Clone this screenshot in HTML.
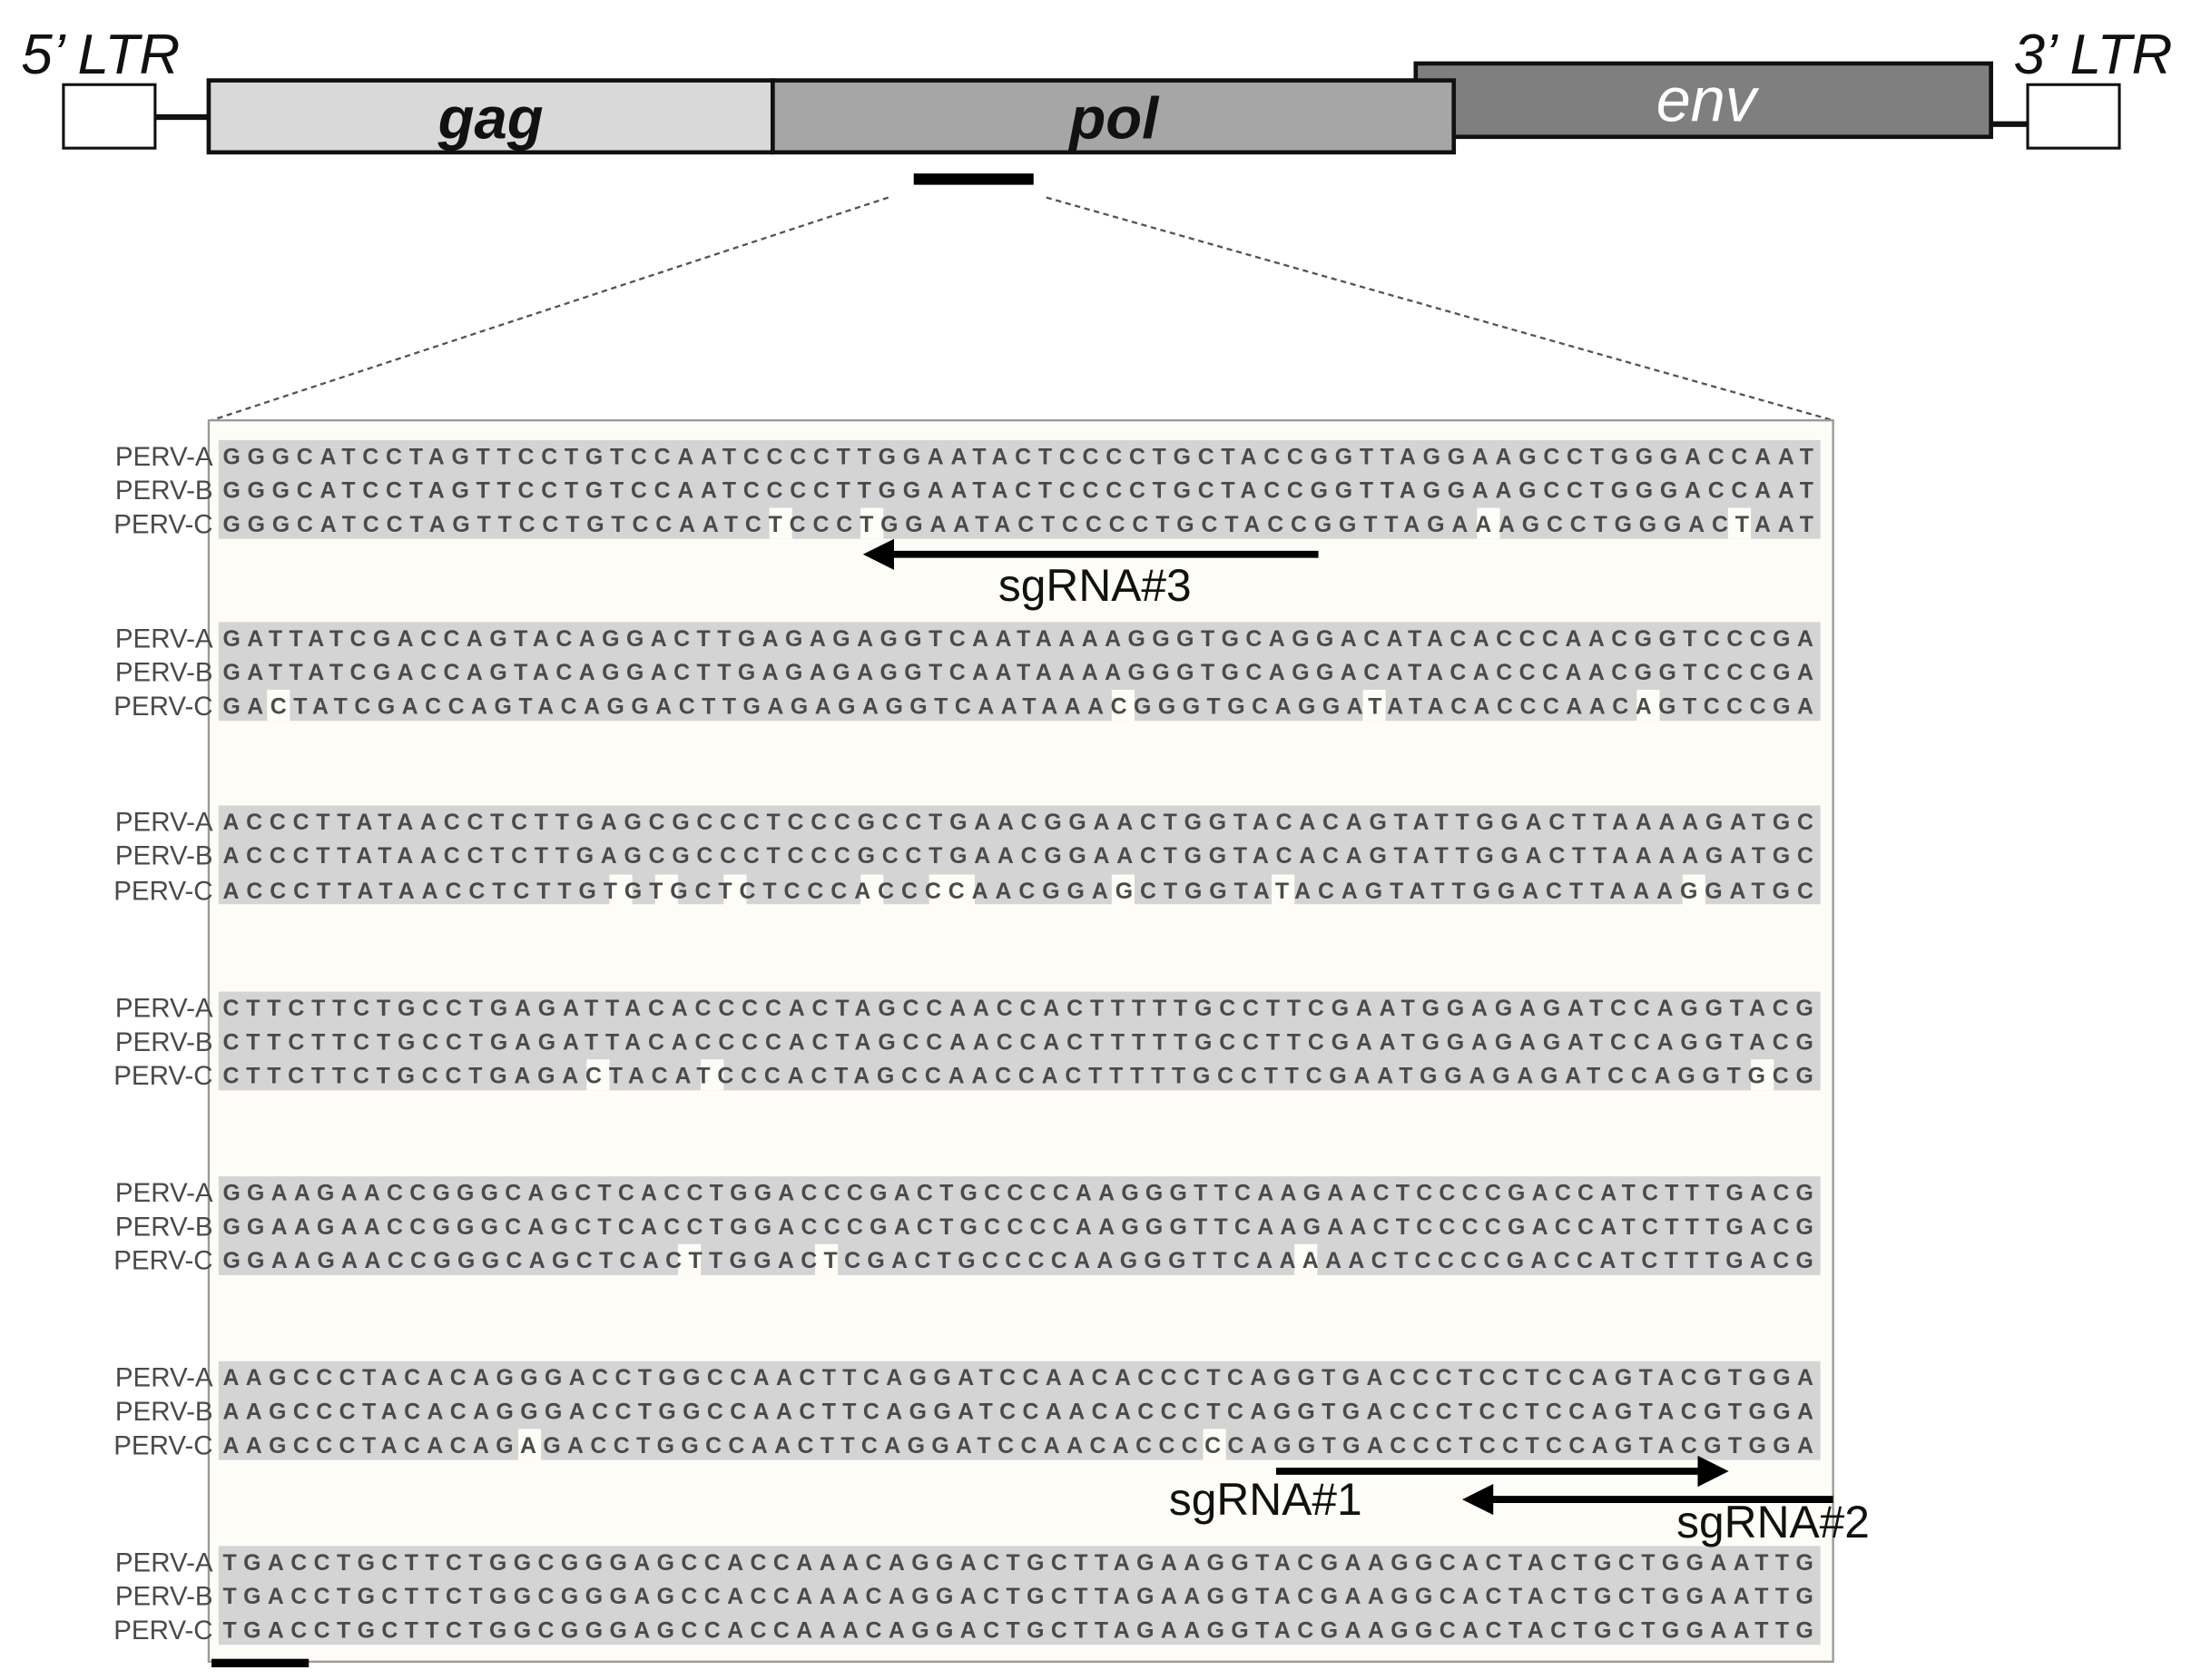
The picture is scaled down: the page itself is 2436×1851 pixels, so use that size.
<!DOCTYPE html>
<html><head><meta charset="utf-8"><style>
html,body{margin:0;padding:0;background:#fff;}
svg{display:block;}
.seq{font-family:"Liberation Sans",sans-serif;font-weight:bold;font-size:16px;fill:#4a4a4a;}
.lab{font-family:"Liberation Sans",sans-serif;font-size:19px;fill:#4a4a4a;}
.sg{font-family:"Liberation Sans",sans-serif;font-size:32px;fill:#111;}
</style></head><body>
<svg width="2436" height="1851" viewBox="0 0 1568 1191" preserveAspectRatio="none" xmlns="http://www.w3.org/2000/svg">
<rect x="0" y="0" width="1568" height="1191" fill="#fff"/>
<!-- genome map -->
<text x="15" y="52" font-family="Liberation Sans, sans-serif" font-style="italic" font-size="40" fill="#111">5’ LTR</text>
<text x="1428" y="52" font-family="Liberation Sans, sans-serif" font-style="italic" font-size="40" fill="#111">3’ LTR</text>
<rect x="45" y="60" width="65" height="45" fill="#fff" stroke="#111" stroke-width="2"/>
<rect x="1438" y="60" width="65" height="45" fill="#fff" stroke="#111" stroke-width="2"/>
<line x1="110" y1="83" x2="148" y2="83" stroke="#111" stroke-width="4"/>
<line x1="1412" y1="88" x2="1438" y2="88" stroke="#111" stroke-width="4"/>
<rect x="1004" y="45" width="408" height="52" fill="#7f7f7f" stroke="#111" stroke-width="3"/>
<text x="1210" y="86" text-anchor="middle" font-family="Liberation Sans, sans-serif" font-style="italic" font-size="44" fill="#fff">env</text>
<rect x="148" y="57" width="400" height="51" fill="#d9d9d9" stroke="#111" stroke-width="3"/>
<rect x="548" y="57" width="483" height="51" fill="#a6a6a6" stroke="#111" stroke-width="3"/>
<line x1="548" y1="57" x2="548" y2="108" stroke="#111" stroke-width="1.5"/>
<text x="348" y="98" text-anchor="middle" font-family="Liberation Sans, sans-serif" font-style="italic" font-weight="bold" font-size="42" fill="#111">gag</text>
<text x="790" y="98" text-anchor="middle" font-family="Liberation Sans, sans-serif" font-style="italic" font-weight="bold" font-size="42" fill="#111">pol</text>
<rect x="648" y="123" width="85" height="8" fill="#000"/>
<line x1="630" y1="140" x2="150" y2="298" stroke="#555" stroke-width="1.5" stroke-dasharray="4 3"/>
<line x1="742" y1="140" x2="1300" y2="298" stroke="#555" stroke-width="1.5" stroke-dasharray="4 3"/>
<!-- alignment box -->
<rect x="148" y="298" width="1152" height="880" fill="#fdfcf6" stroke="#999" stroke-width="1.5"/>
<g fill="#d4d4d4">
<rect x="155" y="312" width="1136" height="70"/>
<rect x="155" y="441" width="1136" height="70"/>
<rect x="155" y="571" width="1136" height="70"/>
<rect x="155" y="703" width="1136" height="70"/>
<rect x="155" y="834" width="1136" height="70"/>
<rect x="155" y="965" width="1136" height="70"/>
<rect x="155" y="1096" width="1136" height="70"/>
</g>
<g fill="#fdfcf6">
<rect x="545.6" y="360" width="16.2" height="22"/><rect x="610.3" y="360" width="16.2" height="22"/><rect x="1047.5" y="360" width="16.2" height="22"/><rect x="1225.5" y="360" width="16.2" height="22"/>
<rect x="189.4" y="489" width="16.2" height="22"/><rect x="788.4" y="489" width="16.2" height="22"/><rect x="966.5" y="489" width="16.2" height="22"/><rect x="1160.8" y="489" width="16.2" height="22"/>
<rect x="432.2" y="620" width="16.2" height="22"/><rect x="464.6" y="620" width="16.2" height="22"/><rect x="513.2" y="620" width="16.2" height="22"/><rect x="610.3" y="620" width="16.2" height="22"/><rect x="658.9" y="620" width="32.4" height="22"/><rect x="788.4" y="620" width="16.2" height="22"/><rect x="901.8" y="620" width="16.2" height="22"/><rect x="1193.2" y="620" width="16.2" height="22"/>
<rect x="416" y="751" width="16.2" height="22"/><rect x="497" y="751" width="16.2" height="22"/><rect x="1241.7" y="751" width="16.2" height="22"/>
<rect x="480.8" y="882" width="16.2" height="22"/><rect x="578" y="882" width="16.2" height="22"/><rect x="918" y="882" width="16.2" height="22"/>
<rect x="367.5" y="1013" width="16.2" height="22"/><rect x="853.2" y="1013" width="16.2" height="22"/>
</g>
<g class="lab" text-anchor="end">
<text x="151" y="330">PERV-A</text><text x="151" y="354">PERV-B</text><text x="151" y="378">PERV-C</text>
<text x="151" y="459">PERV-A</text><text x="151" y="483">PERV-B</text><text x="151" y="507">PERV-C</text>
<text x="151" y="589">PERV-A</text><text x="151" y="613">PERV-B</text><text x="151" y="638">PERV-C</text>
<text x="151" y="721">PERV-A</text><text x="151" y="745">PERV-B</text><text x="151" y="769">PERV-C</text>
<text x="151" y="852">PERV-A</text><text x="151" y="876">PERV-B</text><text x="151" y="900">PERV-C</text>
<text x="151" y="983">PERV-A</text><text x="151" y="1007">PERV-B</text><text x="151" y="1031">PERV-C</text>
<text x="151" y="1114">PERV-A</text><text x="151" y="1138">PERV-B</text><text x="151" y="1162">PERV-C</text>
</g>
<g class="seq">
<text x="158" y="329" textLength="1128" lengthAdjust="spacing">GGGCATCCTAGTTCCTGTCCAATCCCCTTGGAATACTCCCCTGCTACCGGTTAGGAAGCCTGGGACCAAT</text>
<text x="158" y="353" textLength="1128" lengthAdjust="spacing">GGGCATCCTAGTTCCTGTCCAATCCCCTTGGAATACTCCCCTGCTACCGGTTAGGAAGCCTGGGACCAAT</text>
<text x="158" y="377" textLength="1128" lengthAdjust="spacing">GGGCATCCTAGTTCCTGTCCAATCTCCCTGGAATACTCCCCTGCTACCGGTTAGAAAGCCTGGGACTAAT</text>
<text x="158" y="458" textLength="1128" lengthAdjust="spacing">GATTATCGACCAGTACAGGACTTGAGAGAGGTCAATAAAAGGGTGCAGGACATACACCCAACGGTCCCGA</text>
<text x="158" y="482" textLength="1128" lengthAdjust="spacing">GATTATCGACCAGTACAGGACTTGAGAGAGGTCAATAAAAGGGTGCAGGACATACACCCAACGGTCCCGA</text>
<text x="158" y="506" textLength="1128" lengthAdjust="spacing">GACTATCGACCAGTACAGGACTTGAGAGAGGTCAATAAACGGGTGCAGGATATACACCCAACAGTCCCGA</text>
<text x="158" y="588" textLength="1128" lengthAdjust="spacing">ACCCTTATAACCTCTTGAGCGCCCTCCCGCCTGAACGGAACTGGTACACAGTATTGGACTTAAAAGATGC</text>
<text x="158" y="612" textLength="1128" lengthAdjust="spacing">ACCCTTATAACCTCTTGAGCGCCCTCCCGCCTGAACGGAACTGGTACACAGTATTGGACTTAAAAGATGC</text>
<text x="158" y="637" textLength="1128" lengthAdjust="spacing">ACCCTTATAACCTCTTGTGTGCTCTCCCACCCCAACGGAGCTGGTATACAGTATTGGACTTAAAGGATGC</text>
<text x="158" y="720" textLength="1128" lengthAdjust="spacing">CTTCTTCTGCCTGAGATTACACCCCACTAGCCAACCACTTTTTGCCTTCGAATGGAGAGATCCAGGTACG</text>
<text x="158" y="744" textLength="1128" lengthAdjust="spacing">CTTCTTCTGCCTGAGATTACACCCCACTAGCCAACCACTTTTTGCCTTCGAATGGAGAGATCCAGGTACG</text>
<text x="158" y="768" textLength="1128" lengthAdjust="spacing">CTTCTTCTGCCTGAGACTACATCCCACTAGCCAACCACTTTTTGCCTTCGAATGGAGAGATCCAGGTGCG</text>
<text x="158" y="851" textLength="1128" lengthAdjust="spacing">GGAAGAACCGGGCAGCTCACCTGGACCCGACTGCCCCAAGGGTTCAAGAACTCCCCGACCATCTTTGACG</text>
<text x="158" y="875" textLength="1128" lengthAdjust="spacing">GGAAGAACCGGGCAGCTCACCTGGACCCGACTGCCCCAAGGGTTCAAGAACTCCCCGACCATCTTTGACG</text>
<text x="158" y="899" textLength="1128" lengthAdjust="spacing">GGAAGAACCGGGCAGCTCACTTGGACTCGACTGCCCCAAGGGTTCAAAAACTCCCCGACCATCTTTGACG</text>
<text x="158" y="982" textLength="1128" lengthAdjust="spacing">AAGCCCTACACAGGGACCTGGCCAACTTCAGGATCCAACACCCTCAGGTGACCCTCCTCCAGTACGTGGA</text>
<text x="158" y="1006" textLength="1128" lengthAdjust="spacing">AAGCCCTACACAGGGACCTGGCCAACTTCAGGATCCAACACCCTCAGGTGACCCTCCTCCAGTACGTGGA</text>
<text x="158" y="1030" textLength="1128" lengthAdjust="spacing">AAGCCCTACACAGAGACCTGGCCAACTTCAGGATCCAACACCCCCAGGTGACCCTCCTCCAGTACGTGGA</text>
<text x="158" y="1113" textLength="1128" lengthAdjust="spacing">TGACCTGCTTCTGGCGGGAGCCACCAAACAGGACTGCTTAGAAGGTACGAAGGCACTACTGCTGGAATTG</text>
<text x="158" y="1137" textLength="1128" lengthAdjust="spacing">TGACCTGCTTCTGGCGGGAGCCACCAAACAGGACTGCTTAGAAGGTACGAAGGCACTACTGCTGGAATTG</text>
<text x="158" y="1161" textLength="1128" lengthAdjust="spacing">TGACCTGCTTCTGGCGGGAGCCACCAAACAGGACTGCTTAGAAGGTACGAAGGCACTACTGCTGGAATTG</text>
</g>
<!-- sgRNA arrows -->
<line x1="935" y1="393" x2="630" y2="393" stroke="#000" stroke-width="5"/>
<polygon points="612,393 634,382 634,404" fill="#000"/>
<text class="sg" x="708" y="426">sgRNA#3</text>
<line x1="905" y1="1043" x2="1208" y2="1043" stroke="#000" stroke-width="5"/>
<polygon points="1226,1043 1204,1032 1204,1054" fill="#000"/>
<text class="sg" x="829" y="1074">sgRNA#1</text>
<line x1="1300" y1="1063" x2="1055" y2="1063" stroke="#000" stroke-width="5"/>
<polygon points="1037,1063 1059,1052 1059,1074" fill="#000"/>
<text class="sg" x="1189" y="1090">sgRNA#2</text>
<rect x="150" y="1176" width="69" height="6" fill="#000"/>
</svg>
</body></html>
